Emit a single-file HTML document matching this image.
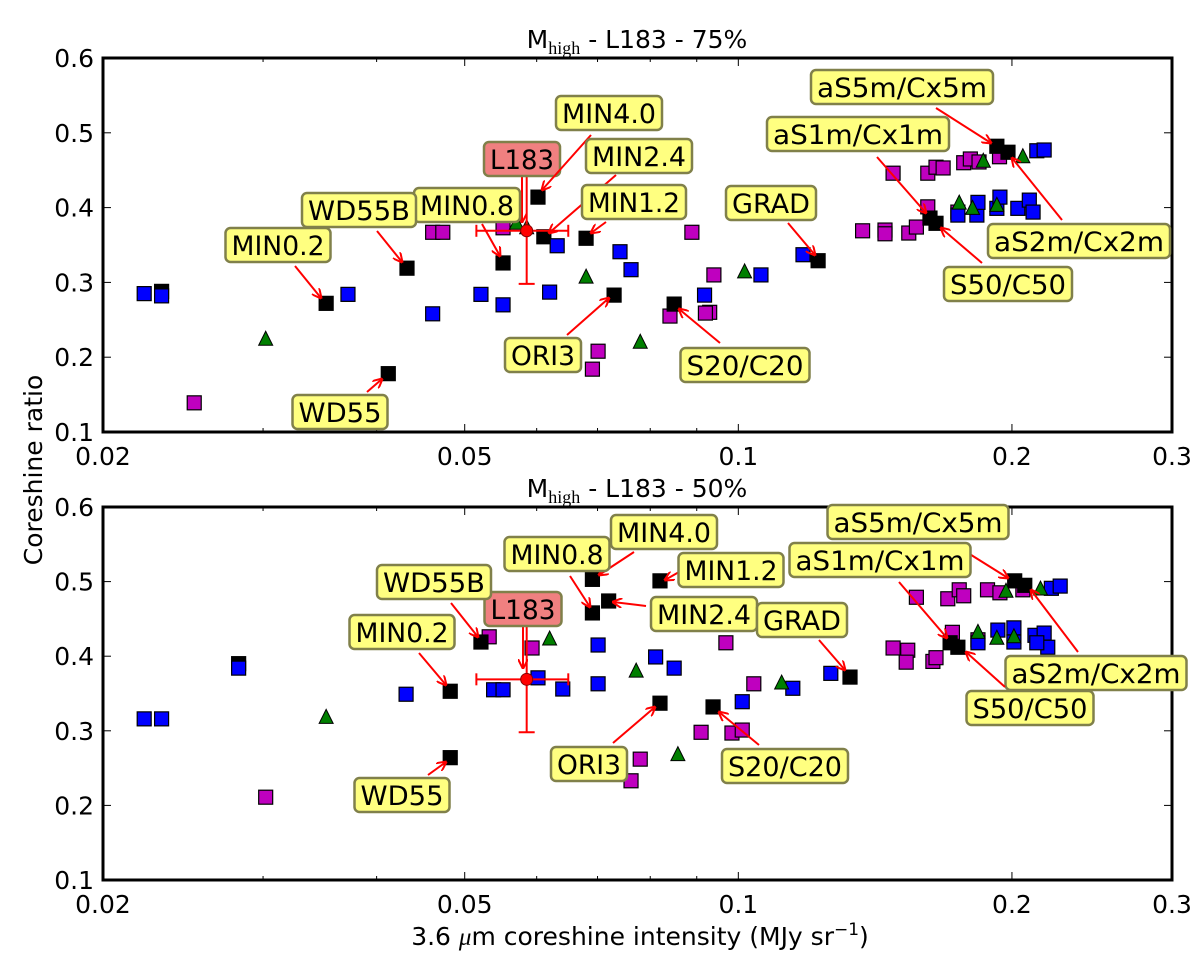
<!DOCTYPE html>
<html><head><meta charset="utf-8"><style>
body{margin:0;background:#fff}
svg{display:block;font-family:"DejaVu Sans","Liberation Sans",sans-serif}
</style></head><body>
<svg id="chart" width="1200" height="957" viewBox="0 0 1200 957" xmlns="http://www.w3.org/2000/svg">
<defs><marker id="ah" markerWidth="10" markerHeight="10" refX="9" refY="5" orient="auto" markerUnits="userSpaceOnUse"><path d="M0,0 L10,5 L0,10" fill="none" stroke="#f00" stroke-width="2"/></marker></defs>
</svg>
<script>
// ---------- data: top panel (75%) ----------
const topBlue = [[0.0222,0.285],[0.0232,0.282],[0.0372,0.284],[0.0461,0.258],[0.0521,0.284],[0.0551,0.270],[0.062,0.287],[0.0632,0.349],[0.0741,0.341],[0.0762,0.317],[0.0918,0.283],[0.1059,0.310],[0.1178,0.337],[0.1744,0.390],[0.183,0.390],[0.1835,0.407],[0.1925,0.399],[0.194,0.414],[0.203,0.399],[0.209,0.410],[0.211,0.394],[0.213,0.476],[0.217,0.477]];
const topMagenta = [[0.0252,0.139],[0.0461,0.367],[0.0473,0.367],[0.0551,0.373],[0.0701,0.208],[0.0691,0.184],[0.0841,0.255],[0.0889,0.367],[0.094,0.310],[0.093,0.260],[0.092,0.259],[0.148,0.446],[0.1616,0.446],[0.165,0.454],[0.168,0.453],[0.177,0.460],[0.180,0.465],[0.184,0.461],[0.1938,0.468],[0.137,0.369],[0.145,0.370],[0.145,0.365],[0.154,0.366],[0.157,0.374],[0.1616,0.401],[0.1744,0.394]];
const topBlack = [[0.0232,0.288],[0.0352,0.272],[0.0432,0.319],[0.0412,0.178],[0.0551,0.326],[0.0602,0.414],[0.0611,0.361],[0.068,0.359],[0.073,0.283],[0.085,0.271],[0.1224,0.329],[0.1625,0.386],[0.165,0.379],[0.1925,0.482],[0.198,0.474]];
const topGreen = [[0.0302,0.224],[0.057,0.379],[0.0585,0.373],[0.068,0.307],[0.078,0.220],[0.1016,0.314],[0.175,0.406],[0.181,0.399],[0.186,0.462],[0.1925,0.403],[0.2056,0.468]];
const topL183 = [0.0585,0.369,0.0515,0.065,0.298,0.441];
// ---------- data: bottom panel (50%) ----------
const botBlue = [[0.0222,0.316],[0.0232,0.316],[0.0282,0.384],[0.0431,0.349],[0.0538,0.355],[0.0551,0.355],[0.0602,0.371],[0.0641,0.356],[0.0701,0.415],[0.0701,0.363],[0.0811,0.399],[0.085,0.384],[0.1148,0.357],[0.101,0.339],[0.1264,0.377],[0.221,0.491],[0.226,0.494],[0.1835,0.418],[0.193,0.435],[0.201,0.438],[0.201,0.419],[0.212,0.428],[0.217,0.431],[0.219,0.412],[0.213,0.418]];
const botMagenta = [[0.0302,0.211],[0.0532,0.426],[0.0593,0.411],[0.078,0.262],[0.0762,0.233],[0.0969,0.418],[0.104,0.363],[0.091,0.298],[0.0984,0.297],[0.101,0.301],[0.148,0.411],[0.1536,0.408],[0.153,0.392],[0.1637,0.393],[0.165,0.398],[0.157,0.479],[0.170,0.477],[0.175,0.489],[0.177,0.481],[0.188,0.489],[0.194,0.485],[0.172,0.432],[0.1835,0.422],[0.2056,0.489]];
const botBlack = [[0.0282,0.390],[0.0482,0.353],[0.0482,0.264],[0.0521,0.419],[0.0691,0.503],[0.0691,0.458],[0.072,0.474],[0.082,0.501],[0.082,0.337],[0.0938,0.332],[0.1327,0.372],[0.171,0.418],[0.1744,0.412],[0.2014,0.501],[0.2066,0.495]];
const botGreen = [[0.0352,0.318],[0.062,0.423],[0.0772,0.380],[0.0858,0.268],[0.1116,0.364],[0.1835,0.432],[0.1925,0.424],[0.201,0.426],[0.197,0.487],[0.215,0.490]];
const botL183 = [0.0585,0.369,0.0515,0.065,0.298,0.443];
const xTickVals = [0.02,0.05,0.1,0.2,0.3];
const xTickLabels = ["0.02","0.05","0.1","0.2","0.3"];
const xMinorVals = [0.03,0.04,0.06,0.07,0.08,0.09];
const yTickVals = [0.1,0.2,0.3,0.4,0.5,0.6];
const yTickLabels = ["0.1","0.2","0.3","0.4","0.5","0.6"];
// annotation labels: [text, cx, cy, w, arrow x1,y1,x2,y2, pink]
const topAnn = [["L183",522,159,76,522,177,522,222,1],["MIN4.0",609,113,106,591,135,542,190],["MIN2.4",639,156,106,616,175,549,233],["MIN1.2",634,202,104,606,222,591,233],["MIN0.8",467,205,106,482,224,500,256],["WD55B",359,210,114,377,231,402,262],["MIN0.2",278,245,105,295,266,321,298],["WD55",340,412,95,367,392,382,379],["ORI3",543,355,76,567,335,609,298],["GRAD",771,203,90,788,223,815,255],["aS5m/Cx5m",902,87,182,936,108,991,143],["aS1m/Cx1m",858,134,182,877,157,926,213],["aS2m/Cx2m",1079,241,182,1062,220,1012,158],["S50/C50",1008,284,128,982,263,941,228],["S20/C20",745,365,129,720,343,679,309]];
const botAnn = [["L183",523,609,77,523,625,523,668,1],["MIN4.0",664,532,106,634,552,599,575],["MIN1.2",731,570,105,679,572,665,580],["MIN2.4",704,614,106,646,606,613,602],["MIN0.8",557,554,105,570,576,590,607],["WD55B",434,582,114,451,603,478,637],["MIN0.2",402,632,105,419,653,446,685],["WD55",402,795,95,428,775,446,762],["ORI3",589,764,76,613,743,655,707],["GRAD",802,620,90,819,640,845,670],["aS5m/Cx5m",918,522,181,952,543,1008,578],["aS1m/Cx1m",880,560,181,899,582,947,638],["aS2m/Cx2m",1096,673,181,1078,652,1031,590],["S50/C50",1030,708,127,1005,687,966,652],["S20/C20",785,766,126,759,745,719,712]];

const NS="http://www.w3.org/2000/svg";
const svg=document.getElementById('chart');
function mk(tag,attrs,parent,txt){const e=document.createElementNS(NS,tag);for(const k in attrs)e.setAttribute(k,attrs[k]);if(txt!==undefined)e.textContent=txt;(parent||svg).appendChild(e);return e;}
const X0=103,X1=1172;
function xs(v){return X0+(Math.log10(v/0.02)/Math.log10(15))*(X1-X0);}

function panel(name,top,bottom,title,blue,mag,blk,grn,l183,ann){
  const g=mk('g',{});
  
  
  const ys=v=>bottom-(v-0.1)/0.5*(bottom-top);
  const t=mk('text',{x:637,y:top-29,'text-anchor':'middle','font-size':25,'dominant-baseline':'auto'},g);
  
  
  t.setAttribute('y',top-28);
  mk('tspan',{},t,'M');
  mk('tspan',{dy:6,'font-size':18,'font-family':'Liberation Serif, serif'},t,'high');
  mk('tspan',{dy:-6},t,title);
  // shift title baseline
  t.setAttribute('y',top-30+0);
  t.setAttribute('transform','translate(0,20)');
  xTickVals.concat(xMinorVals).forEach((v,i)=>{
    const x=xs(v);const len=i<xTickVals.length?8:4;
    mk('line',{x1:x,y1:bottom,x2:x,y2:bottom-len,stroke:'#000','stroke-width':1},g);
    mk('line',{x1:x,y1:top,x2:x,y2:top+len,stroke:'#000','stroke-width':1},g);
  });
  xTickVals.forEach((v,i)=>{
    const lb=mk('text',{x:xs(v),y:bottom+33,'text-anchor':'middle','font-size':25},g,xTickLabels[i]);
    
    
  });
  yTickVals.forEach((v,i)=>{
    const y=ys(v);
    mk('line',{x1:X0,y1:y,x2:X0+8,y2:y,stroke:'#000','stroke-width':1},g);
    mk('line',{x1:X1,y1:y,x2:X1-8,y2:y,stroke:'#000','stroke-width':1},g);
    const lb=mk('text',{x:X0-9,y:y+9,'text-anchor':'end','font-size':25},g,yTickLabels[i]);
    
    
  });
  const sq=(arr,fill,nm)=>arr.forEach(p=>{
    const r=mk('rect',{x:xs(p[0])-7,y:ys(p[1])-7,width:14,height:14,fill:fill,stroke:'#000','stroke-width':1.2},g);
    
    
  });
  sq(mag,'#bf00bf','magenta-square');
  sq(blk,'#000','black-square');
  sq(blue,'#0000ff','blue-square');
  grn.forEach(p=>{
    const x=xs(p[0]),y=ys(p[1]);
    const tr=mk('polygon',{points:`${x},${y-8} ${x-7},${y+6} ${x+7},${y+6}`,fill:'#007f00',stroke:'#000','stroke-width':1},g);
    
    
  });
  const cx=xs(l183[0]),cy=ys(l183[1]);
  const eb=mk('g',{stroke:'#f00','stroke-width':2},g);
  
  
  mk('line',{x1:xs(l183[2]),y1:cy,x2:xs(l183[3]),y2:cy},eb);
  mk('line',{x1:xs(l183[2]),y1:cy-6,x2:xs(l183[2]),y2:cy+6},eb);
  mk('line',{x1:xs(l183[3]),y1:cy-6,x2:xs(l183[3]),y2:cy+6},eb);
  mk('line',{x1:cx,y1:ys(l183[4]),x2:cx,y2:ys(l183[5])},eb);
  mk('line',{x1:cx-8,y1:ys(l183[4]),x2:cx+8,y2:ys(l183[4])},eb);
  const c=mk('circle',{cx:cx,cy:cy,r:6,fill:'#f00',stroke:'#800','stroke-width':1},g);
  
  
  const fr=mk('rect',{x:X0,y:top,width:X1-X0,height:bottom-top,fill:'none',stroke:'#000','stroke-width':3},g);
  
  
  ann.forEach(a=>{
    const ag=mk('g',{},g);
    
    
    mk('line',{x1:a[4],y1:a[5],x2:a[6],y2:a[7],stroke:'#f00','stroke-width':2,'marker-end':'url(#ah)'},ag);
    mk('rect',{x:a[1]-a[3]/2,y:a[2]-17,width:a[3],height:34,rx:5,ry:5,fill:a[8]?'#f08080':'#ffff80',stroke:'#80804a','stroke-width':2.5},ag);
    mk('text',{x:a[1],y:a[2]+10,'text-anchor':'middle','font-size':27,textLength:a[3]-12,lengthAdjust:'spacingAndGlyphs'},ag,a[0]);
  });
}
panel('top-panel',58,432,' - L183 - 75%',topBlue,topMagenta,topBlack,topGreen,topL183,topAnn);
panel('bottom-panel',507,880,' - L183 - 50%',botBlue,botMagenta,botBlack,botGreen,botL183,botAnn);
const yl=mk('text',{x:0,y:0,transform:'translate(42,470) rotate(-90)','text-anchor':'middle','font-size':25},svg,'Coreshine ratio');


const xl=mk('text',{x:640,y:945,'text-anchor':'middle','font-size':25},svg);


mk('tspan',{},xl,'3.6 ');
mk('tspan',{'font-style':'italic','font-family':'Liberation Serif, serif'},xl,'μ');
mk('tspan',{},xl,'m coreshine intensity (MJy sr');
mk('tspan',{dy:-10,'font-size':17},xl,'−1');
mk('tspan',{dy:10},xl,')');
</script>
</body></html>
